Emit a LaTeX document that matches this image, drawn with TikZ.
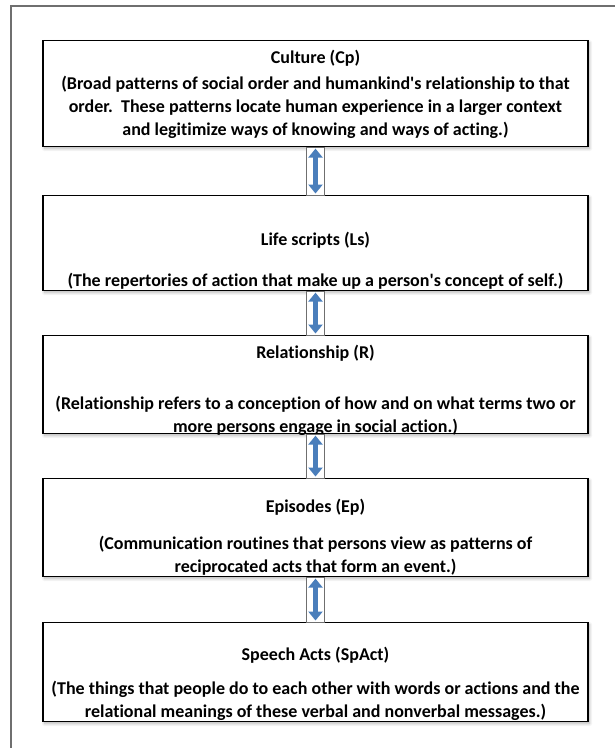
\documentclass[tikz,border=0pt]{standalone}
\usepackage{fontspec}
\setmainfont{Carlito}[Ligatures=NoCommon]
\usetikzlibrary{arrows.meta,shadows.blur,calc}
\definecolor{framegray}{HTML}{6F6F6F}
\definecolor{connblue}{HTML}{4A7EBB}
\newcommand{\txtfont}{\fontsize{18}{23}\selectfont\bfseries}
\newcommand{\sq}{\XeTeXglyph\XeTeXcharglyph"0027\relax}
\begin{document}
\begin{tikzpicture}[x=1pt,y=-1pt,
  box/.style={draw=black, line width=1.1pt, fill=white, minimum width=545pt,
    inner sep=0pt, anchor=north,
    blur shadow={shadow xshift=1.5pt, shadow yshift=-2pt, shadow blur radius=3pt,
      shadow opacity=30, shadow blur steps=8}},
  ttl/.style={font=\txtfont, inner sep=0pt},
  body/.style={font=\txtfont, inner sep=0pt, align=center},
  connrect/.style={draw=framegray, line width=0.8pt, fill=white},
  conn/.style={draw=connblue, line width=5.5pt,
    {Triangle[width=14pt,length=9pt]}-{Triangle[width=14pt,length=9pt]},
    shorten <=1.5pt, shorten >=1.5pt},
  frameline/.style={draw=framegray, line width=1.3pt}]
\useasboundingbox (0,0) rectangle (614,748);
\draw[frameline] (620,6) -- (11,6) -- (11,760);

\node[box, minimum height=106pt] (b1) at (315.5,40) {};
\node[box, minimum height=95pt]  (b2) at (315.5,195) {};
\node[box, minimum height=98pt]  (b3) at (315.5,335) {};
\node[box, minimum height=98pt]  (b4) at (315.5,478) {};
\node[box, minimum height=99pt]  (b5) at (315.5,622) {};

\node[ttl] (t1) at (315.5,58) {Culture (Cp)};
\node[body] (d1) at (315.5,107) {(Broad patterns of social order and humankind\sq s relationship to that\\ order.\ \ These patterns locate human experience in a larger context\\ and legitimize ways of knowing and ways of acting.)};

\node[ttl] (t2) at (315.5,240) {Life scripts (Ls)};
\node[body] (d2) at (315.5,281) {(The repertories of action that make up a person\sq s concept of self.)};

\node[ttl] (t3) at (315.5,353) {Relationship (R)};
\node[body] (d3) at (315.5,416) {(Relationship refers to a conception of how and on what terms two or\\ more persons engage in social action.)};

\node[ttl] (t4) at (315.5,507) {Episodes (Ep)};
\node[body] (d4) at (315.5,556) {(Communication routines that persons view as patterns of\\ reciprocated acts that form an event.)};

\node[ttl] (t5) at (315.5,655) {Speech Acts (SpAct)};
\node[body] (d5) at (315.5,701) {(The things that people do to each other with words or actions and the\\ relational meanings of these verbal and nonverbal messages.)};

\foreach \a/\b in {b1/b2, b2/b3, b3/b4, b4/b5}{
  \draw[connrect] ($(\a.south)+(-9,0)$) rectangle ($(\b.north)+(9,0)$);
  \draw[conn] (\a.south) -- (\b.north);
}
\end{tikzpicture}
\end{document}
